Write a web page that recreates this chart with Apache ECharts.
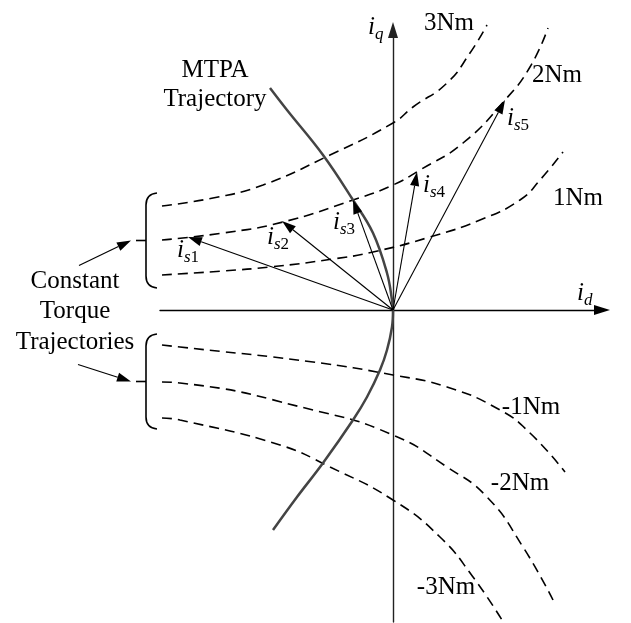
<!DOCTYPE html>
<html>
<head>
<meta charset="utf-8">
<script src="https://cdn.jsdelivr.net/npm/echarts@6/dist/echarts.min.js"></script>
<style>
  html, body { margin: 0; padding: 0; background: #fff; }
  #chart { width: 631px; height: 623px; }
</style>
</head>
<body>
<div id="chart"></div>
<script>
// Stator current plane (i_d, i_q) in arbitrary current units.

// Constant-torque trajectories, [i_d, i_q] points
const torqueNames = ['3Nm', '2Nm', '1Nm', '-1Nm', '-2Nm', '-3Nm'];
const torque3 = [[-2.31, 1.04], [-1.80, 1.12], [-1.30, 1.25], [-0.63, 1.55], [0, 1.87], [0.20, 2.03], [0.54, 2.27], [0.77, 2.57], [0.94, 2.85]];
const torque2 = [[-2.31, 0.70], [-1.70, 0.77], [-1.10, 0.88], [-0.40, 1.10], [0, 1.25], [0.27, 1.40], [0.70, 1.67], [1.12, 2.10], [1.37, 2.43], [1.55, 2.82]];
const torque1 = [[-2.31, 0.35], [-1.70, 0.39], [-1.23, 0.43], [-0.60, 0.51], [-0.20, 0.58], [0.37, 0.73], [0.87, 0.90], [1.27, 1.10], [1.47, 1.30], [1.70, 1.58]];
const torqueM1 = [[-2.31, -0.35], [-2.13, -0.37], [-0.80, -0.52], [0, -0.65], [0.54, -0.77], [1.07, -1.00], [1.37, -1.23], [1.72, -1.62]];
const torqueM2 = [[-2.31, -0.72], [-2.13, -0.73], [-0.80, -1.00], [0, -1.25], [0.54, -1.57], [0.94, -1.87], [1.30, -2.37], [1.60, -2.90]];
const torqueM3 = [[-2.31, -1.08], [-2.13, -1.10], [-1.13, -1.35], [-0.63, -1.57], [0, -1.90], [0.47, -2.27], [0.80, -2.67], [1.09, -3.10]];

// Maximum-torque-per-ampere trajectory
const mtpa = [[-1.23, 2.22], [-1.06, 2.00], [-0.70, 1.55], [-0.40, 1.10], [-0.20, 0.77], [-0.06, 0.37], [-0.01, 0.10], [0, 0],
              [-0.01, -0.17], [-0.06, -0.40], [-0.13, -0.60], [-0.26, -0.87], [-0.40, -1.10], [-0.70, -1.53], [-0.96, -1.87], [-1.20, -2.20]];

// Current vectors on the 2Nm trajectory
const vectorNames = ['s1', 's2', 's3', 's4', 's5'];
const vectorTips = [[-2.05, 0.73], [-1.11, 0.89], [-0.40, 1.10], [0.24, 1.38], [1.12, 2.10]];

// Axis names
const axisNames = ['d', 'q'];

// ---- presentation ----
const SERIF = 'Liberation Serif';
const FS = 25;
const X_MIN = -2.33, X_MAX = 2.09, Y_MIN = -3.12, Y_MAX = 2.80;
const torqueCurves = [torque3, torque2, torque1, torqueM1, torqueM2, torqueM3];
// label offsets (px) from each curve's end point
const torqueTagOffsets = [[-38, -2], [9, 47], [15, 46], [-34, -65], [-33, -117], [-56, -33]];
// label offsets (px) from each vector tip: left edge of "i", middle of the line
const vectorTagOffsets = [[-11, 13], [-15, 16], [-20, 22], [6, 13], [2, 18]];

const subRich = {
  i: { fontFamily: SERIF, fontStyle: 'italic', fontSize: FS, fill: '#000' },
  s: { fontFamily: SERIF, fontStyle: 'italic', fontSize: 17, fill: '#000', padding: [16, 0, 0, 0] },
  n: { fontFamily: SERIF, fontSize: 17, fill: '#000', padding: [16, 0, 0, 0] }
};

// annotation list: anchor in data space + pixel offset
const notes = [];
torqueCurves.forEach((c, k) => {
  notes.push({ at: c[c.length - 1], off: torqueTagOffsets[k], text: torqueNames[k], align: 'center' });
});
vectorTips.forEach((p, k) => {
  const nm = vectorNames[k];
  notes.push({ at: p, off: vectorTagOffsets[k], text: '{i|i}{s|' + nm[0] + '}{n|' + nm.slice(1) + '}', align: 'left', rich: true });
});
notes.push({ at: [X_MAX, 0], off: [-25, -17], text: '{i|i}{s|' + axisNames[0] + '}', align: 'left', rich: true });
notes.push({ at: [0, Y_MAX], off: [-25, -3], text: '{i|i}{s|' + axisNames[1] + '}', align: 'left', rich: true });
notes.push({ at: mtpa[0], off: [-55, -3], text: 'MTPA\nTrajectory', align: 'center', lineHeight: 29 });

const dashed = { type: [10, 6], width: 1.6, color: '#000' };

const series = torqueCurves.map((c, k) => ({
  name: torqueNames[k],
  type: 'line',
  data: c,
  smooth: 0.5,
  symbol: 'none',
  clip: false,
  silent: true,
  lineStyle: dashed,
  z: 2
}));

series.push({
  name: 'MTPA',
  type: 'line',
  data: mtpa,
  smooth: 0.4,
  symbol: 'none',
  clip: false,
  silent: true,
  lineStyle: { color: '#444', width: 2.5 },
  z: 3
});

series.push({
  name: 'vectors',
  type: 'custom',
  coordinateSystem: 'cartesian2d',
  data: vectorTips,
  clip: false,
  silent: true,
  z: 4,
  renderItem: (params, api) => {
    const o = api.coord([0, 0]);
    const t = api.coord([api.value(0), api.value(1)]);
    const ang = Math.atan2(t[1] - o[1], t[0] - o[0]);
    const L = 14, W = 4.6;
    const bx = t[0] - L * Math.cos(ang), by = t[1] - L * Math.sin(ang);
    const nx = -Math.sin(ang) * W, ny = Math.cos(ang) * W;
    return {
      type: 'group',
      children: [
        { type: 'line', shape: { x1: o[0], y1: o[1], x2: bx, y2: by }, style: { stroke: '#000', lineWidth: 1.1 } },
        { type: 'polygon', shape: { points: [[t[0], t[1]], [bx + nx, by + ny], [bx - nx, by - ny]] }, style: { fill: '#000' } }
      ]
    };
  }
});

series.push({
  name: 'notes',
  type: 'custom',
  coordinateSystem: 'cartesian2d',
  data: notes.map(n => n.at),
  clip: false,
  silent: true,
  z: 5,
  renderItem: (params, api) => {
    const n = notes[params.dataIndex];
    const p = api.coord([api.value(0), api.value(1)]);
    const style = {
      text: n.text,
      fill: '#000',
      fontFamily: SERIF,
      fontSize: FS,
      align: n.align,
      verticalAlign: 'middle'
    };
    if (n.rich) style.rich = subRich;
    if (n.lineHeight) style.lineHeight = n.lineHeight;
    return { type: 'text', x: p[0] + n.off[0], y: p[1] + n.off[1], style };
  }
});

const axisCommon = {
  type: 'value',
  splitLine: { show: false },
  axisTick: { show: false },
  axisLabel: { show: false },
  axisLine: {
    onZero: true,
    symbol: ['none', 'triangle'],
    symbolSize: [10, 16],
    lineStyle: { color: '#000', width: 1.4 }
  }
};

const option = {
  animation: false,
  backgroundColor: '#fff',
  grid: { left: 160, right: 29, top: 30, bottom: 1, containLabel: false },
  xAxis: Object.assign({}, axisCommon, { min: X_MIN, max: X_MAX }),
  yAxis: Object.assign({}, axisCommon, { min: Y_MIN, max: Y_MAX,
    axisLine: Object.assign({}, axisCommon.axisLine, { lineStyle: { color: '#222', width: 1.4 } }) }),
  series
};

const chart = echarts.init(document.getElementById('chart'));
chart.setOption(option);

// Braces grouping the constant-torque trajectories, with pointer arrows and caption
const px = p => chart.convertToPixel({ gridIndex: 0 }, p);
const graphics = [];
const ink = { stroke: '#000', lineWidth: 1.6, fill: null };
function arrow(tail, tip) {
  const ang = Math.atan2(tip[1] - tail[1], tip[0] - tail[0]);
  const L = 14, W = 4.6;
  const bx = tip[0] - L * Math.cos(ang), by = tip[1] - L * Math.sin(ang);
  const nx = -Math.sin(ang) * W, ny = Math.cos(ang) * W;
  graphics.push({ type: 'line', shape: { x1: tail[0], y1: tail[1], x2: bx, y2: by }, style: { stroke: '#000', lineWidth: 1.2 }, silent: true });
  graphics.push({ type: 'polygon', shape: { points: [tip, [bx + nx, by + ny], [bx - nx, by - ny]] }, style: { fill: '#000' }, silent: true });
}
function brace(group, tailShift) {
  const a = px(group[0][0]), b = px(group[2][0]);
  const mid = (a[1] + b[1]) / 2, h = 47.5;
  const x0 = a[0] - 16;
  graphics.push({ type: 'bezierCurve', shape: { x1: x0 + 11, y1: mid - h, cpx1: x0, cpy1: mid - h + 1, x2: x0, y2: mid - h + 12 }, style: ink, silent: true });
  graphics.push({ type: 'line', shape: { x1: x0, y1: mid - h + 12, x2: x0, y2: mid + h - 12 }, style: ink, silent: true });
  graphics.push({ type: 'bezierCurve', shape: { x1: x0, y1: mid + h - 12, cpx1: x0, cpy1: mid + h - 1, x2: x0 + 11, y2: mid + h }, style: ink, silent: true });
  graphics.push({ type: 'line', shape: { x1: x0 - 10, y1: mid, x2: x0, y2: mid }, style: ink, silent: true });
  const tip = [x0 - 15, mid];
  arrow([tip[0] + tailShift[0], tip[1] + tailShift[1]], tip);
}
brace([torque3, torque2, torque1], [-52, 25]);
brace([torqueM1, torqueM2, torqueM3], [-53, -17]);

const axisStart = px([X_MIN, 0]);
graphics.push({
  type: 'text',
  x: axisStart[0] - 85,
  y: axisStart[1] + 1.5,
  silent: true,
  style: {
    text: 'Constant\nTorque\nTrajectories',
    fill: '#000',
    fontFamily: SERIF,
    fontSize: FS,
    lineHeight: 30.5,
    align: 'center',
    verticalAlign: 'middle'
  }
});

chart.setOption({ graphic: graphics });
</script>
</body>
</html>
